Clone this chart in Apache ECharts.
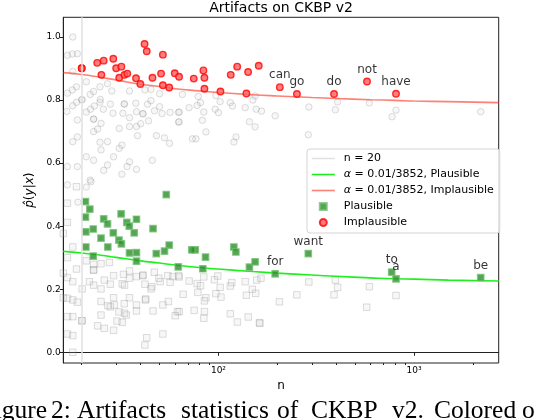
<!DOCTYPE html>
<html>
<head>
<meta charset="utf-8">
<script src="https://cdn.jsdelivr.net/npm/echarts@6/dist/echarts.min.js"></script>
<style>
html,body{margin:0;padding:0;background:#fff;}
#c{width:534px;height:420px;}
</style>
</head>
<body>
<div id="c"></div>
<script>
// ---------- data ----------
const xMajorTicks = [100, 1000];
const xMajorLabels = ['10²', '10³'];
const xMinorTicks = [20, 30, 40, 50, 60, 70, 80, 90, 200, 300, 400, 500, 600, 700, 800, 900, 2000];
const yTicks = [0, 0.2, 0.4, 0.6, 0.8, 1.0];
const yTickLabels = ['0.0', '0.2', '0.4', '0.6', '0.8', '1.0'];
const nThreshold = 20;

const curveN = [16.1, 20, 25, 30, 40, 50, 60, 80, 100, 150, 200, 300, 400, 600, 800, 1000, 1500, 2710];
const curvePlausible = [0.320, 0.315, 0.308, 0.301, 0.290, 0.283, 0.277, 0.269, 0.264, 0.256, 0.251, 0.245, 0.241, 0.236, 0.233, 0.232, 0.229, 0.226];
const curveImplausible = [0.887, 0.881, 0.872, 0.864, 0.850, 0.843, 0.836, 0.829, 0.824, 0.817, 0.813, 0.808, 0.805, 0.801, 0.799, 0.797, 0.795, 0.792];

const grayCirclePts = [
[18.0,1.000],[16.9,0.942],[17.9,0.946],[19.0,0.947],[18.0,0.891],[21.1,0.858],[16.9,0.822],[17.9,0.832],[18.8,0.842],[20.0,0.800],
[22.1,0.818],[23.0,0.827],[24.8,0.842],[27.1,0.852],[28.5,0.829],[35.1,0.829],[42.1,0.832],[45.2,0.834],[50.0,0.820],[16.8,0.764],
[18.0,0.782],[18.8,0.793],[21.1,0.762],[22.2,0.771],[23.2,0.781],[24.8,0.793],[25.8,0.771],[28.0,0.787],[28.9,0.758],[33.0,0.787],
[32.5,0.758],[37.8,0.790],[38.1,0.763],[41.1,0.756],[43.4,0.787],[45.2,0.798],[47.1,0.766],[50.0,0.779],[51.5,0.757],[56.6,0.761],
[62.5,0.761],[19.0,0.737],[23.0,0.739],[25.1,0.726],[23.0,0.700],[24.1,0.708],[31.1,0.710],[35.1,0.744],[35.1,0.716],[38.1,0.716],
[38.6,0.687],[40.0,0.725],[43.9,0.734],[18.0,0.668],[19.0,0.683],[24.8,0.666],[27.1,0.668],[16.9,0.589],[19.0,0.589],[21.1,0.620],
[23.0,0.609],[25.1,0.642],[29.1,0.620],[31.1,0.647],[32.1,0.657],[35.1,0.604],[34.1,0.589],[38.1,0.580],[45.9,0.609],[48.2,0.687],
[53.0,0.680],[56.2,0.663],[62.5,0.730],[25.9,0.577],[27.1,0.594],[32.1,0.565],[16.9,0.531],[21.1,0.524],[22.1,0.546],[19.1,0.476],
[22.3,0.541],[33.0,0.788],[41.1,0.757],[23.0,0.740],[20.1,0.802],[24.9,0.802],
[65.4,0.818],[78.8,0.811],[81.0,0.792],[77.8,0.783],[70.8,0.776],[63.0,0.762],[63.0,0.731],[84.2,0.762],[82.8,0.736],[86.3,0.699],
[97.0,0.814],[102,0.795],[96.2,0.771],[100,0.760],[115,0.792],[118,0.781],[137,0.776],[150,0.800],[154,0.813],[156,0.771],
[166,0.765],[144,0.731],[154,0.715],[195,0.750],[73.6,0.677],[76.7,0.677],[123,0.683],[120,0.667],
[290,0.778],[288,0.690],[407,0.794],[396,0.769],[591,0.791],[809,0.768],[772,0.747],[2193,0.763]
];

const graySquarePts = [
[18.8,0.525],[16.9,0.473],[16.9,0.412],[16.1,0.377],[18.0,0.334],[16.9,0.300],[18.8,0.264],[21.1,0.290],[23.0,0.279],[25.1,0.281],
[27.7,0.285],[16.1,0.251],[16.9,0.237],[18.0,0.224],[20.1,0.201],[21.9,0.224],[23.0,0.261],[23.0,0.213],[25.1,0.201],[26.1,0.229],
[28.0,0.216],[29.1,0.243],[32.7,0.247],[32.2,0.217],[35.1,0.258],[35.1,0.235],[38.1,0.240],[41.1,0.243],[42.1,0.216],[47.0,0.254],
[49.6,0.235],[45.7,0.208],[45.2,0.201],[50.4,0.224],[55.1,0.243],[58.5,0.240],[56.6,0.222],[62.5,0.243],[16.1,0.173],[16.9,0.171],
[18.0,0.166],[19.0,0.159],[18.0,0.113],[16.9,0.113],[20.1,0.100],[25.1,0.161],[29.1,0.173],[27.2,0.148],[28.0,0.144],[25.1,0.118],
[31.0,0.128],[33.8,0.118],[33.0,0.154],[35.1,0.173],[38.1,0.150],[38.1,0.131],[42.3,0.166],[46.3,0.131],[52.0,0.150],[55.5,0.161],
[61.7,0.129],[30.3,0.099],[32.2,0.095],[24.1,0.084],[26.1,0.076],[29.1,0.070],[16.9,0.058],[18.0,0.053],[52.0,0.058],[43.0,0.046],
[42.1,0.023],[18.0,0.000],[23.0,0.261],[29.4,0.150],[33.1,0.124],[42.5,0.169],[41.1,0.245],[33.1,0.213],[20.0,0.100],
[63.0,0.239],[70.8,0.226],[77.8,0.218],[81.0,0.211],[84.2,0.239],[95.4,0.230],[99.3,0.242],[102,0.206],[117,0.221],[115,0.210],
[137,0.224],[157,0.229],[165,0.235],[149,0.200],[155,0.187],[139,0.181],[66.0,0.184],[78.5,0.190],[86.3,0.173],[84.8,0.163],
[97.0,0.186],[103,0.175],[63.0,0.129],[60.1,0.116],[75.1,0.133],[84.8,0.129],[84.2,0.108],[115,0.122],[125,0.096],[142,0.112],
[162,0.094],[290,0.223],[252,0.182],[205,0.160],[396,0.229],[407,0.206],[390,0.182],[591,0.208],[573,0.143],[809,0.180],[163,0.092]
];

const implausiblePts = [
[20.0,0.901],[20.0,0.901],[24.0,0.918],[25.9,0.925],[25.2,0.880],[29.0,0.931],[30.0,0.901],[31.9,0.906],[31.1,0.871],[33.1,0.880],
[34.2,0.884],[37.9,0.869],[39.9,0.851],[41.9,0.978],[43.0,0.955],[46.0,0.871],[50.9,0.884],[52.0,0.944],[52.0,0.847],[56.0,0.840],
[59.8,0.885],[62.9,0.874],[74.8,0.868],[83.8,0.894],[84.8,0.871],[84.8,0.836],[102.4,0.827],[115.6,0.880],[124.7,0.906],[139.0,0.821],
[141.8,0.889],[160.7,0.909]
];
const implausibleWords = ['can', 'go', 'do', 'not', 'have'];
const implausibleWordPts = [[206,0.841],[252,0.819],[390,0.819],[575,0.859],[809,0.820]];

const plausiblePts = [
[54.1,0.500],[20.9,0.478],[22.0,0.454],[20.9,0.429],[31.8,0.439],[25.9,0.423],[27.1,0.407],[34.0,0.412],[38.1,0.422],[35.0,0.400],
[22.9,0.391],[21.0,0.382],[29.0,0.379],[37.1,0.379],[46.3,0.392],[25.1,0.362],[31.0,0.356],[31.9,0.344],[21.0,0.334],[27.2,0.334],
[56.0,0.340],[53.0,0.321],[48.1,0.313],[35.1,0.315],[38.1,0.316],[22.9,0.305],[38.1,0.289],[62.3,0.271],[76.1,0.325],[73.1,0.325],
[85.9,0.302],[83.2,0.265],[119.9,0.334],[122.8,0.318],[144,0.270],[154,0.287]
];
const plausibleWords = ['for', 'want', 'to', 'a', 'be'];
const plausibleWordPts = [[195,0.249],[288,0.313],[769,0.254],[809,0.233],[2193,0.237]];

const legendNames = ['n = 20', 'α = 0.01/3852, Plausible', 'α = 0.01/3852, Implausible', 'Plausible', 'Implausible'];
const captionWords = ['Figure', '2:', 'Artifacts', 'statistics', 'of', 'CKBP', 'v2.', 'Colored', 'of'];

// ---------- styles ----------
const FONT = 'DejaVu Sans';
const sqPath = 'path://M0,0H10V10H0Z';
const vlineColor = '#e0e0e0';
const greenLine = '#1ef01e';
const redLine = 'rgba(255,50,30,0.62)';
const plausibleStyle = { color: '#2a8f2a', borderColor: '#74c274', borderWidth: 1.2 };
const implausibleStyle = { color: '#ff5c5c', borderColor: '#ff0000', borderWidth: 1.4 };
const wordLabel = {
  show: true, position: 'top', distance: 2, formatter: '{b}',
  color: '#000', fontSize: 12, fontFamily: FONT
};
const captionX = [-19.5, 51, 77, 181, 277, 311, 392, 434, 522];

const chart = echarts.init(document.getElementById('c'), null, { renderer: 'canvas' });

const option = {
  animation: false,
  backgroundColor: '#fff',
  title: {
    text: 'Artifacts on CKBP v2',
    left: 281, top: 1, padding: 0, textAlign: 'center',
    textStyle: { fontFamily: FONT, fontSize: 14, fontWeight: 'normal', color: '#000' }
  },
  grid: {
    left: 63.3, right: 35.3, top: 17.3, bottom: 57,
    show: true, borderColor: '#222', borderWidth: 1, backgroundColor: 'transparent'
  },
  legend: {
    orient: 'vertical',
    left: 307, top: 149,
    padding: [4, 6, 5, 4],
    itemWidth: 23, itemHeight: 7, itemGap: 5,
    backgroundColor: 'rgba(255,255,255,0.85)',
    borderColor: '#d4d4d4', borderWidth: 1, borderRadius: 3,
    data: [
      { name: legendNames[0], itemStyle: { opacity: 0 }, lineStyle: { color: vlineColor, width: 1.5 } },
      { name: legendNames[1], itemStyle: { opacity: 0 }, lineStyle: { color: greenLine, width: 1.6 } },
      { name: legendNames[2], itemStyle: { opacity: 0 }, lineStyle: { color: redLine, width: 1.6 } },
      { name: legendNames[3] },
      { name: legendNames[4] }
    ],
    formatter: function (name) { return name.replace('α', '{i|α}'); },
    textStyle: {
      fontFamily: FONT, fontSize: 11, color: '#000', padding: [0, 0, 0, 4],
      rich: { i: { fontFamily: FONT, fontSize: 11, fontStyle: 'italic', color: '#000' } }
    },
    selectedMode: false
  },
  xAxis: [{
    type: 'log', logBase: 10, min: 16.1, max: 2710,
    position: 'bottom',
    name: 'n', nameLocation: 'middle', nameGap: 16,
    nameTextStyle: { fontFamily: FONT, fontSize: 12, color: '#000' },
    axisLine: { show: true, lineStyle: { color: '#222', width: 1 } },
    axisTick: { show: true, length: 3.5, lineStyle: { color: '#222' }, customValues: xMajorTicks },
    axisLabel: {
      show: true, margin: 3, fontFamily: FONT, fontSize: 9, color: '#000',
      customValues: xMajorTicks,
      formatter: function (v) { return xMajorLabels[xMajorTicks.indexOf(Math.round(v))] || ''; }
    },
    splitLine: { show: false }, minorTick: { show: false }
  }, {
    type: 'log', logBase: 10, min: 16.1, max: 2710,
    position: 'bottom', offset: 0,
    axisLine: { show: false },
    axisTick: { show: true, length: 2, lineStyle: { color: '#222' }, customValues: xMinorTicks },
    axisLabel: { show: false },
    splitLine: { show: false }
  }],
  yAxis: {
    type: 'value', min: -0.034, max: 1.0625,
    name: '{i|p\u0302}({i|y}|{i|x})', nameLocation: 'middle', nameGap: 15,
    nameTextStyle: {
      fontFamily: FONT, fontSize: 12, color: '#000',
      rich: { i: { fontFamily: FONT, fontSize: 12, fontStyle: 'italic', color: '#000' } }
    },
    axisLine: { show: true, lineStyle: { color: '#222', width: 1 } },
    axisTick: { show: true, length: 3.5, lineStyle: { color: '#222' }, customValues: yTicks },
    axisLabel: {
      show: true, margin: 2.5, fontFamily: FONT, fontSize: 9, color: '#000',
      customValues: yTicks,
      formatter: function (v) {
        const i = yTicks.findIndex(t => Math.abs(t - v) < 1e-6);
        return i >= 0 ? yTickLabels[i] : '';
      }
    },
    splitLine: { show: false }
  },
  series: [
    {
      name: 'bgImplausible', type: 'scatter', silent: true, xAxisIndex: 0,
      symbol: 'circle', symbolSize: 6.5,
      itemStyle: { color: 'rgba(200,200,200,0.18)', borderColor: 'rgba(120,120,120,0.3)', borderWidth: 1 },
      data: grayCirclePts, z: 1
    },
    {
      name: 'bgPlausible', type: 'scatter', silent: true, xAxisIndex: 0,
      symbol: 'rect', symbolSize: 6.5,
      itemStyle: { color: 'rgba(200,200,200,0.18)', borderColor: 'rgba(120,120,120,0.3)', borderWidth: 1 },
      data: graySquarePts, z: 1
    },
    {
      name: 'n = 20', type: 'line', xAxisIndex: 0, data: [], symbol: 'none',
      itemStyle: { color: vlineColor },
      lineStyle: { color: vlineColor, width: 1.5 },
      markLine: {
        silent: true, symbol: ['none', 'none'], label: { show: false },
        lineStyle: { color: vlineColor, width: 1.5, type: 'solid' },
        data: [{ xAxis: nThreshold }]
      }, z: 2
    },
    {
      name: 'α = 0.01/3852, Plausible', type: 'line', xAxisIndex: 0, symbol: 'none', smooth: true,
      itemStyle: { color: greenLine },
      lineStyle: { color: greenLine, width: 1.6 },
      data: curveN.map((n, i) => [n, curvePlausible[i]]), z: 3
    },
    {
      name: 'α = 0.01/3852, Implausible', type: 'line', xAxisIndex: 0, symbol: 'none', smooth: true,
      itemStyle: { color: redLine },
      lineStyle: { color: redLine, width: 1.6 },
      data: curveN.map((n, i) => [n, curveImplausible[i]]), z: 3
    },
    {
      name: 'Plausible', type: 'scatter', xAxisIndex: 0, symbol: sqPath, symbolSize: 6.5, symbolKeepAspect: true,
      itemStyle: plausibleStyle, data: plausiblePts, z: 4
    },
    {
      name: 'Plausible', type: 'scatter', xAxisIndex: 0, symbol: sqPath, symbolSize: 6.5, symbolKeepAspect: true,
      itemStyle: plausibleStyle, label: wordLabel,
      data: plausibleWordPts.map((p, i) => ({ name: plausibleWords[i], value: p })), z: 4
    },
    {
      name: 'Implausible', type: 'scatter', xAxisIndex: 0, symbol: 'circle', symbolSize: 6.5,
      itemStyle: implausibleStyle, data: implausiblePts, z: 4
    },
    {
      name: 'Implausible', type: 'scatter', xAxisIndex: 0, symbol: 'circle', symbolSize: 6.5,
      itemStyle: implausibleStyle, label: wordLabel,
      data: implausibleWordPts.map((p, i) => ({ name: implausibleWords[i], value: p })), z: 4
    }
  ],
  graphic: captionWords.map((w, i) => ({
    type: 'text', x: captionX[i], y: 411.1, silent: true,
    style: { text: w, font: '25.5px "Liberation Serif"', fill: '#000', verticalAlign: 'middle', textVerticalAlign: 'middle' }
  }))
};

chart.setOption(option);
</script>
</body>
</html>
